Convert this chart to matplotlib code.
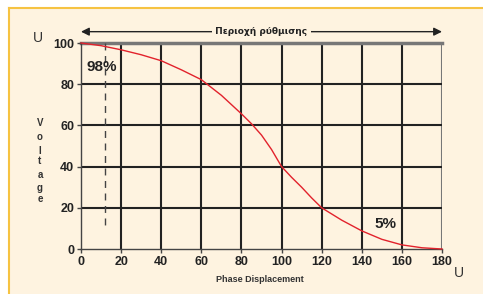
import matplotlib.pyplot as plt
from matplotlib.patches import Rectangle
from matplotlib.lines import Line2D

# phase displacement (deg) vs voltage (%)
phase = [0, 10, 20, 30, 40, 50, 60, 70, 80, 85, 90, 95, 100, 105, 110, 115, 120,
         130, 140, 150, 160, 170, 180]
voltage = [100, 98.7, 96.7, 94.3, 91.4, 87, 82.2, 74.6, 65.6, 60.8, 55.3, 48.3, 40,
           34.8, 30, 24.8, 20, 14, 8.8, 4.7, 2, 0.6, 0]
xticks = [0, 20, 40, 60, 80, 100, 120, 140, 160, 180]
yticks = [0, 20, 40, 60, 80, 100]
ylabel_letters = ['V', 'o', 'l', 't', 'a', 'g', 'e']

cream = '#FEF3E0'
gold = '#F6C342'
dark = '#222222'
fam = ['Liberation Sans', 'DejaVu Sans']

W, H = 483, 294
fig = plt.figure(figsize=(W / 100, H / 100), dpi=100)
fig.patch.set_facecolor('white')

# cream panel with gold border on top and left
fig.patches.append(Rectangle((9 / W, 0), 1, 1 - 8 / H, transform=fig.transFigure,
                             facecolor=cream, edgecolor='none', zorder=-5))
fig.lines.append(Line2D([9 / W, 1], [1 - 8 / H, 1 - 8 / H], transform=fig.transFigure,
                        color=gold, lw=1.5, zorder=-4))
fig.lines.append(Line2D([9 / W, 9 / W], [0, 1 - 8 / H], transform=fig.transFigure,
                        color=gold, lw=1.5, zorder=-4))

ax = fig.add_axes([81 / W, 1 - 249 / H, (442 - 81) / W, (249 - 43) / H])
ax.set_facecolor(cream)
ax.set_xlim(0, 180)
ax.set_ylim(0, 100)

# grid
for x in xticks[1:-1]:
    ax.axvline(x, color=dark, lw=1.5, zorder=1)
ax.axvline(180, color='#777777', lw=1.5, zorder=1)
for y in yticks[1:-1]:
    ax.axhline(y, color=dark, lw=1.5, zorder=1)
ax.axhline(100, color='#777777', lw=2.5, zorder=1, clip_on=False)

for s in ['top', 'right']:
    ax.spines[s].set_visible(False)
for s in ['left', 'bottom']:
    ax.spines[s].set_color('#444444')
    ax.spines[s].set_linewidth(1.0)

ax.set_xticks(xticks)
ax.set_yticks(yticks)
ax.tick_params(length=3, width=1, color='#444444', pad=2)
for lab in ax.get_xticklabels() + ax.get_yticklabels():
    lab.set_family(fam)
    lab.set_fontweight('bold')
    lab.set_fontsize(9)
    lab.set_color(dark)

# curve
ax.plot(phase, voltage, color='#E2222C', lw=1.0, zorder=3, clip_on=False)

# dashed marker line
ax.plot([12, 12], [100, 10.5], color='#444444', lw=1, ls=(0, (5, 4)), zorder=2)

ax.text(10.2, 88.3, '98%', ha='center', va='center', fontsize=11, fontweight='bold',
        family=fam, color=dark, zorder=4)
ax.text(152, 12.1, '5%', ha='center', va='center', fontsize=11, fontweight='bold',
        family=fam, color=dark, zorder=4)

# range arrow
ax.annotate('', xy=(0, 105.5), xytext=(180, 105.5), xycoords='data',
            arrowprops=dict(arrowstyle='<|-|>', color=dark, lw=1, mutation_scale=12,
                            shrinkA=0, shrinkB=0), annotation_clip=False)
ax.text(90, 105.5, ' Περιοχή ρύθμισης ', ha='center', va='center', fontsize=6.5,
        fontweight='bold', family=['DejaVu Sans Condensed', 'DejaVu Sans'], color=dark,
        bbox=dict(facecolor=cream, edgecolor='none', pad=0.5), clip_on=False)

# axis labels
fig.text(260 / W, 1 - 279 / H, 'Phase Displacement', ha='center', va='center',
         fontsize=6.5, fontweight='bold', family=fam, color='#333333')
ypos = [123, 137, 151, 161, 175, 188, 199]
for ch, yp in zip(ylabel_letters, ypos):
    fig.text(40 / W, 1 - yp / H, ch, ha='center', va='center', fontsize=7,
             fontweight='bold', family=fam, color='#333333')

fig.text(38 / W, 1 - 38 / H, 'U', ha='center', va='center', fontsize=10, family=fam,
         color='#333333')
fig.text(459 / W, 1 - 273 / H, 'U', ha='center', va='center', fontsize=10, family=fam,
         color='#333333')

fig.savefig('out.png', dpi=100, facecolor=fig.get_facecolor())
